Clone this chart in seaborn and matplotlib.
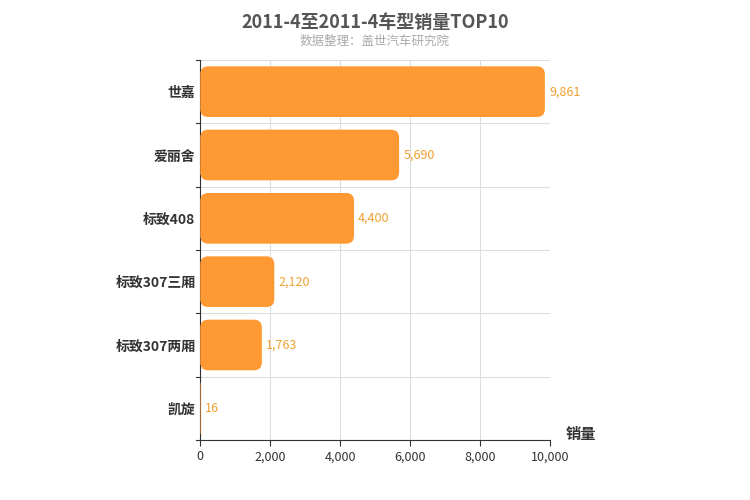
import matplotlib
matplotlib.use("Agg")
import matplotlib.pyplot as plt
import seaborn as sns
import pandas as pd
from matplotlib.patches import FancyBboxPatch

categories = ["世嘉", "爱丽舍", "标致408", "标致307三厢", "标致307两厢", "凯旋"]
values = [9861, 5690, 4400, 2120, 1763, 16]
xticks = [0, 2000, 4000, 6000, 8000, 10000]

plt.rcParams["font.family"] = ["Noto Sans CJK SC", "DejaVu Sans"]
df = pd.DataFrame({"cat": categories, "val": values})
fig = plt.figure(figsize=(7.5, 5), dpi=100)
ax = fig.add_axes([0.267, 0.12, 0.466, 0.76])
sns.barplot(data=df, y="cat", x="val", ax=ax, color="#FF9933", width=0.8, saturation=1)

for p in list(ax.patches):
    x, y, w, h = p.get_x(), p.get_y(), p.get_width(), p.get_height()
    p.remove()
    r = min(228, w / 2) if w > 0 else 0
    ax.add_patch(FancyBboxPatch((x, y), w, h, boxstyle=f"round,pad=0,rounding_size={max(r,1)}",
                                mutation_aspect=0.126 / 228, fc="#FF9933", ec="none", zorder=3))
for i, v in enumerate(values):
    ax.text(v + 120, i, f"{v:,}", va="center", ha="left", color="#F0A030", fontsize=9, zorder=4)

ax.set_xlim(0, 10000)
ax.set_ylim(5.5, -0.5)
ax.set_xticks(xticks)
ax.set_xticklabels([f"{t:,}" for t in xticks], fontsize=9, color="#333")
ax.set_yticks(range(len(categories)))
ax.set_yticklabels(categories, fontsize=10, fontweight="bold", color="#333")
ax.tick_params(axis="y", length=0)
ax.tick_params(axis="x", length=4, color="#333")
for b in [i + 0.5 for i in range(-1, 6)]:
    ax.axhline(b, color="#DDDDDD", lw=0.8, zorder=0)
    ax.plot([0, -0.012], [b, b], transform=ax.get_yaxis_transform(), color="#333", lw=0.8, clip_on=False)
ax.grid(axis="x", color="#DDDDDD", lw=0.8)
ax.set_axisbelow(True)
for s in ["top", "right"]:
    ax.spines[s].set_visible(False)
ax.spines["left"].set_color("#333")
ax.spines["bottom"].set_color("#333")
ax.set_xlabel("")
ax.set_ylabel("")
fig.text(0.775, 0.122, "销量", fontsize=11, fontweight="bold", color="#333", ha="center")
fig.text(0.5, 0.955, "2011-4至2011-4车型销量TOP10", fontsize=13, fontweight="bold", color="#555", ha="center", va="center")
fig.text(0.5, 0.918, "数据整理：盖世汽车研究院", fontsize=9, color="#AAAAAA", ha="center", va="center")
fig.savefig("out.png")
